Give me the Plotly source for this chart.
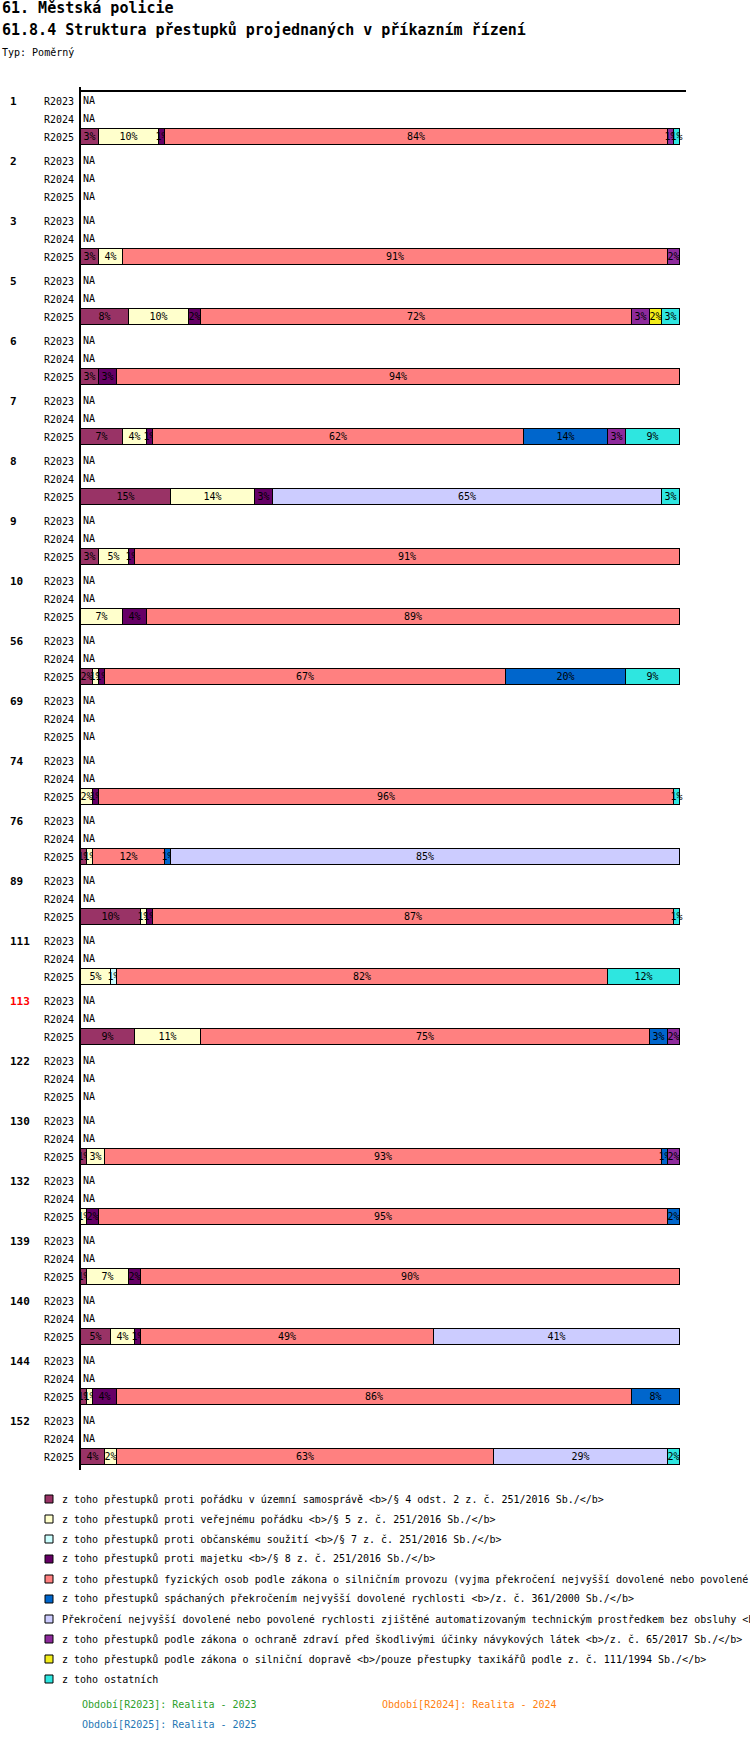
import plotly.graph_objects as go

# --- data -------------------------------------------------------------
groups = ["1", "2", "3", "5", "6", "7", "8", "9", "10", "56", "69", "74", "76",
          "89", "111", "113", "122", "130", "132", "139", "140", "144", "152"]
periods = ["R2023", "R2024", "R2025"]
highlight_group = "113"

categories = [
    "z toho přestupků proti pořádku v územní samosprávě <b>/§ 4 odst. 2 z. č. 251/2016 Sb./</b>",
    "z toho přestupků proti veřejnému pořádku <b>/§ 5 z. č. 251/2016 Sb./</b>",
    "z toho přestupků proti občanskému soužití <b>/§ 7 z. č. 251/2016 Sb./</b>",
    "z toho přestupků proti majetku <b>/§ 8 z. č. 251/2016 Sb./</b>",
    "z toho přestupků fyzických osob podle zákona o silničním provozu (vyjma překročení nejvyšší dovolené nebo povolené rychlosti) <b>/z. č. 361/2000 Sb./</b>",
    "z toho přestupků spáchaných překročením nejvyšší dovolené rychlosti <b>/z. č. 361/2000 Sb./</b>",
    "Překročení nejvyšší dovolené nebo povolené rychlosti zjištěné automatizovaným technickým prostředkem bez obsluhy <b>/z. č. 361/2000 Sb./</b>",
    "z toho přestupků podle zákona o ochraně zdraví před škodlivými účinky návykových látek <b>/z. č. 65/2017 Sb./</b>",
    "z toho přestupků podle zákona o silniční dopravě <b>/pouze přestupky taxikářů podle z. č. 111/1994 Sb./</b>",
    "z toho ostatních",
]
colors = ["#993366", "#FFFFCC", "#CCFFFF", "#660066", "#FF8080",
          "#0066CC", "#CCCCFF", "#8E2A9C", "#F2EC1A", "#2EE6E0"]

# shares in % for period R2025 (R2023 and R2024 have no data -> NA)
N = None
samosprava = [3, N, 3, 8, 3, 7, 15, 3, N, 2, N, N, 1, 10, N, 9, N, 1, N, 1, 5, 1, 4]
verejny_poradek = [10, N, 4, 10, N, 4, 14, 5, 7, 1, N, 2, 1, 1, 5, 11, N, 3, 1, 7, 4, 1, 2]
obcanske_souziti = [N, N, N, N, N, N, N, N, N, N, N, N, N, N, 1, N, N, N, N, N, N, N, N]
majetek = [1, N, N, 2, 3, 1, 3, 1, 4, 1, N, 1, N, 1, N, N, N, N, 2, 2, 1, 4, N]
silnicni_provoz = [84, N, 91, 72, 94, 62, N, 91, 89, 67, N, 96, 12, 87, 82, 75, N, 93, 95, 90, 49, 86, 63]
rychlost = [N, N, N, N, N, 14, N, N, N, 20, N, N, 1, N, N, 3, N, 1, 2, N, N, 8, N]
rychlost_automat = [N, N, N, N, N, N, 65, N, N, N, N, N, 85, N, N, N, N, N, N, N, 41, N, 29]
navykove_latky = [1, N, 2, 3, N, 3, N, N, N, N, N, N, N, N, N, 2, N, 2, N, N, N, N, N]
silnicni_doprava = [N, N, N, 2, N, N, N, N, N, N, N, N, N, N, N, N, N, N, N, N, N, N, N]
ostatni = [1, N, N, 3, N, 9, 3, N, N, 9, N, 1, N, 1, 12, N, N, N, N, N, N, N, 2]

series = [samosprava, verejny_poradek, obcanske_souziti, majetek, silnicni_provoz,
          rychlost, rychlost_automat, navykove_latky, silnicni_doprava, ostatni]

# --- layout helpers (page pixels) ---------------------------------------
W, H = 750, 1762
L, R, T, B = 81, 686, 92, 1470
FONT = "DejaVu Sans Mono, monospace"


def px_x(x):
    return (x - L) / (R - L)


def px_y(y):
    return (B - y) / (B - T)


def row_y(g, r):
    return 9 + 60 * g + 18 * r


fig = go.Figure()

bar_y = [row_y(g, 2) for g in range(len(groups))]
for name, vals, col in zip(categories, series, colors):
    fig.add_trace(go.Bar(
        x=vals, y=bar_y, orientation="h", width=15.5,
        marker=dict(color=col, line=dict(color="black", width=1)),
        text=[f"{v}%" if v is not None else "" for v in vals],
        textposition="inside", insidetextanchor="middle", textangle=0,
        textfont=dict(family=FONT, size=10, color="black"),
        name=name, showlegend=False, hoverinfo="skip",
    ))

# NA labels for rows with no data
na_y = []
for g in range(len(groups)):
    for r, p in enumerate(periods):
        if p != "R2025" or all(s[g] is None for s in series):
            na_y.append(row_y(g, r))
na_gap = 0.35  # small gap between axis line and the NA text
fig.add_trace(go.Scatter(
    x=[na_gap] * len(na_y), y=na_y, mode="text", text=["NA"] * len(na_y),
    textposition="middle right", textfont=dict(family=FONT, size=10, color="black"),
    showlegend=False, hoverinfo="skip", cliponaxis=False,
))

tickvals = [row_y(g, r) for g in range(len(groups)) for r in range(3)]
ticktext = [p for g in range(len(groups)) for p in periods]

fig.update_layout(
    width=W, height=H,
    margin=dict(l=L, r=W - R, t=T, b=H - B, autoexpand=False),
    barmode="stack", bargap=0,
    plot_bgcolor="white", paper_bgcolor="white",
    uniformtext=dict(minsize=10, mode="show"),
    font=dict(family=FONT, size=10, color="black"),
    xaxis=dict(range=[0, 101], side="top", showline=True, linecolor="black", linewidth=1.5,
               showgrid=False, zeroline=False, showticklabels=False, ticks=""),
    yaxis=dict(range=[B - T, 0], showline=True, linecolor="black", linewidth=2,
               showgrid=False, zeroline=False, tickvals=tickvals, ticktext=ticktext,
               ticks="", ticklabelstandoff=3,
               tickfont=dict(family=FONT, size=10, color="black")),
)

# axis stub above the top line
fig.add_shape(type="line", xref="paper", yref="paper", x0=px_x(80), x1=px_x(80),
              y0=1, y1=px_y(87), line=dict(color="black", width=2))

# group labels
for g, name in enumerate(groups):
    fig.add_annotation(
        xref="paper", yref="y", x=px_x(8), y=row_y(g, 0), xanchor="left", yanchor="middle",
        text=f"<b>{name}</b>", showarrow=False,
        font=dict(family=FONT, size=11, color="red" if name == highlight_group else "black"),
    )

# titles
titles = [("61. Městská policie", 8, 15, True),
          ("61.8.4 Struktura přestupků projednaných v příkazním řízení", 30, 15, True),
          ("Typ: Poměrný", 52, 10, False)]
for txt, yy, size, bold in titles:
    fig.add_annotation(
        xref="paper", yref="paper", x=px_x(0), y=px_y(yy), xanchor="left", yanchor="middle",
        text=f"<b>{txt}</b>" if bold else txt, showarrow=False,
        font=dict(family=FONT, size=size, color="black"),
    )

# legend
for i, (name, col) in enumerate(zip(categories, colors)):
    cy = 1499 + 20 * i
    fig.add_shape(type="rect", xref="paper", yref="paper",
                  x0=px_x(45), x1=px_x(53), y0=px_y(cy + 4), y1=px_y(cy - 4),
                  fillcolor=col, line=dict(color="black", width=1))
    fig.add_annotation(
        xref="paper", yref="paper", x=px_x(60), y=px_y(cy), xanchor="left", yanchor="middle",
        text=name.replace("<", "&lt;").replace(">", "&gt;"), showarrow=False,
        font=dict(family=FONT, size=10, color="black"),
    )

period_notes = [("Období[R2023]: Realita - 2023", 80, 1704, "#2CA02C"),
                ("Období[R2024]: Realita - 2024", 380, 1704, "#FF7F0E"),
                ("Období[R2025]: Realita - 2025", 80, 1724, "#1F77B4")]
for txt, xx, yy, col in period_notes:
    fig.add_annotation(
        xref="paper", yref="paper", x=px_x(xx), y=px_y(yy), xanchor="left", yanchor="middle",
        text=txt, showarrow=False, font=dict(family=FONT, size=10, color=col),
    )

# the figure is placed at the page's top-left corner, like the reference
fig.write_html("out.html", config={"displayModeBar": False},
               post_script="document.body.style.margin = '0';")
